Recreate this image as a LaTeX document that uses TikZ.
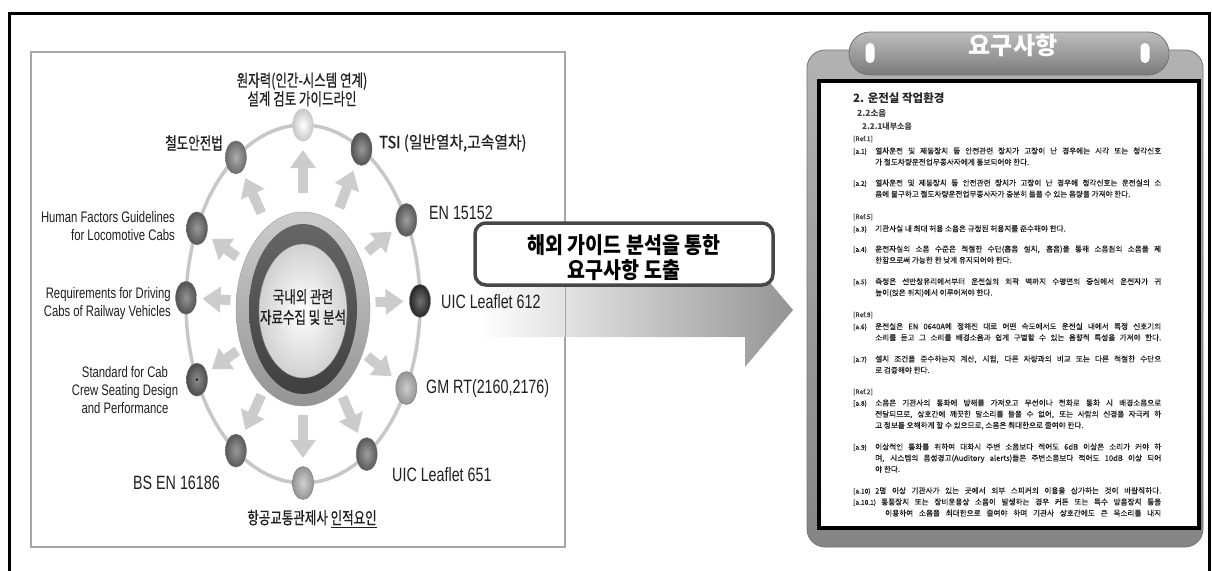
\documentclass[tikz,border=0pt]{standalone}
\usepackage{fontspec}
\usepackage{graphicx}
\setmainfont{Liberation Sans}
\newfontfamily\kr{Noto Sans CJK KR}
\newfontfamily\krfb[FakeBold=0.6]{Noto Sans CJK KR}
\newfontfamily\krdoc[FakeBold=0.35]{Noto Sans CJK KR}
\newfontfamily\en{Liberation Sans}
\usetikzlibrary{shapes.geometric,arrows.meta,calc}
\newcommand\reflabfont{\fontsize{6.6}{11.2}\selectfont}
\newcommand\dfull[2]{\hbox{\hbox to 22pt{\reflabfont #1\hss}\hbox to 286pt{#2}}}
\newcommand\dpart[2]{\hbox{\hbox to 22pt{\reflabfont #1\hss}#2}}
\begin{document}
\begin{tikzpicture}[x=1pt,y=-1pt,
  lab/.style={inner sep=0, yscale=1.35, text=black!88},
  krl/.style={lab, font=\krfb\fontsize{12.5}{11.9}\selectfont},
  ens/.style={lab, font=\en\fontsize{11.3}{13}\selectfont},
  enb/.style={lab, font=\en\fontsize{14.3}{15}\selectfont},
  ballnode/.style={ellipse, minimum width=21, minimum height=33, inner sep=0, draw=black!55, line width=0.4pt},
  bigarrow/.style={draw=black!20, line width=10pt, -{Triangle[width=25pt,length=18pt]}},
  ringline/.style={draw=black!22, line width=3.5pt},
  docp/.style={anchor=west, inner sep=0, align=left, text=black!88, font=\krdoc\fontsize{7.6}{11.2}\selectfont},
  reflab/.style={anchor=west, inner sep=0, text=black!80, font=\krdoc\fontsize{6.6}{8}\selectfont},
  panelbox/.style={rectangle, draw=black!35, line width=1.3pt, fill=white, inner sep=0},
  holebox/.style={rectangle, rounded corners=4.5pt, minimum width=9, minimum height=20, inner sep=0, fill=white},
]
\useasboundingbox (0,0) rectangle (1212,570);
% outer frame
\draw[line width=3pt] (9,575) -- (9,13) -- (1209,13) -- (1209,575);

% left panel
\node[panelbox, minimum width=534, minimum height=495] (lpanel) at (298,299.5) {};

% big arrow
\shade[left color=white, right color=black!42] (478,283) -- (745,283) -- (745,253) -- (793,310) -- (745,367) -- (745,337) -- (478,337) -- cycle;
\draw[draw=black!35, line width=1.3pt] (lpanel.north east) -- (lpanel.south east);

% arrow label box
\node[draw=black!72, line width=3.5pt, fill=white, rounded corners=11pt, minimum width=298, minimum height=62, inner sep=0] (lbox) at (624,254) {};
\node[inner sep=0, yscale=1.15, align=center, font=\kr\bfseries\fontsize{19.5}{21.7}\selectfont] (ltext) at (624,257.5) {해외 가이드 분석을 통한\\요구사항 도출};

% right panel
\node[rectangle, rounded corners=18pt, minimum width=396, minimum height=497, inner sep=0, draw=black!55, line width=0.8pt, top color=black!30, bottom color=black!48] (frame) at (1005,298.5) {};
\node[rectangle, draw=black, line width=3.5pt, fill=white, minimum width=380, minimum height=447, inner sep=0] (docarea) at (1009,304.5) {};
\node[rectangle, rounded corners=21pt, minimum width=320, minimum height=43, inner sep=0, draw=black!55, line width=0.8pt, top color=black!26, bottom color=black!52] (pill) at (1009,53.5) {};
\node[holebox] (hole1) at (870,53) {};
\node[holebox] (hole2) at (1145,53) {};
\node[inner sep=0, text=white, font=\kr\bfseries\fontsize{24}{24}\selectfont] (ptitle) at (1013,45) {요구사항};

% ring
\coordinate (rc) at (303,304);
\draw[ringline] (rc) ellipse [x radius=117pt, y radius=179pt];

\node[ballnode, inner color=white, outer color=black!22, draw=none] (n1) at ($(rc)+(90:117pt and 179pt)$) {};
\node[ballnode, inner color=black!40, outer color=black!68] (n2) at ($(rc)+(60:117pt and 179pt)$) {};
\node[ballnode, inner color=black!38, outer color=black!66] (n3) at ($(rc)+(28:117pt and 179pt)$) {};
\node[ballnode, inner color=black!55, outer color=black!85] (n4) at ($(rc)+(1:117pt and 179pt)$) {};
\node[ballnode, inner color=black!20, outer color=black!42] (n5) at ($(rc)+(-28:117pt and 179pt)$) {};
\node[ballnode, inner color=black!38, outer color=black!65] (n6) at ($(rc)+(-57:117pt and 179pt)$) {};
\node[ballnode, inner color=black!18, outer color=black!42] (n7) at ($(rc)+(-90:117pt and 179pt)$) {};
\node[ballnode, inner color=black!40, outer color=black!65] (n8) at ($(rc)+(-125:117pt and 179pt)$) {};
\node[ballnode, inner color=black!45, outer color=black!70] (n9) at ($(rc)+(-155:117pt and 179pt)$) {};
\node[ballnode, inner color=black!42, outer color=black!68] (n10) at ($(rc)+(178:117pt and 179pt)$) {};
\node[ballnode, inner color=black!40, outer color=black!66] (n11) at ($(rc)+(155:117pt and 179pt)$) {};
\node[ballnode, inner color=black!32, outer color=black!58] (n12) at ($(rc)+(125:117pt and 179pt)$) {};
\fill[black] (n9.center) circle [radius=1.2pt];

\foreach \nn in {n1,n2,n3,n4,n5,n6,n7,n8,n9,n10,n11,n12}
  \draw[bigarrow] ($(rc)!0.62!(\nn)$) -- ($(rc)!0.86!(\nn)$);

% central disc
\node[ellipse, minimum width=134, minimum height=194, inner sep=0, top color=black!20, bottom color=black!42, draw=black!40] (cOuter) at (303,309) {};
\node[ellipse, minimum width=108, minimum height=170, inner sep=0, top color=black!60, bottom color=black!75] (cDark) at (303,309) {};
\node[ellipse, minimum width=88, minimum height=134, inner sep=0, inner color=white, outer color=black!18, draw=black!45] (cInner) at (303,311) {};
\node[krl, align=center, font=\krfb\fontsize{12.5}{15.2}\selectfont] (ctext) at (303,307) {국내외 관련\\자료수집 및 분석};

% labels
\node[krl, align=center] (lt) at (302,89.5) {원자력(인간-시스템 연계)\\설계 검토 가이드라인};
\node[krl, anchor=east] (l12) at (223,143) {철도안전법};
\node[krl, anchor=west, xscale=1.18] (l2) at (379,143) {TSI (일반열차,고속열차)};
\node[enb, anchor=west] (l3) at (429,213) {EN 15152};
\node[ens, anchor=east, align=right] (l11) at (175,226) {Human Factors Guidelines\\for Locomotive Cabs};
\node[ens, anchor=east, align=right] (l10) at (171,303.5) {Requirements for Driving\\Cabs of Railway Vehicles};
\node[enb, anchor=west] (l4) at (441,302) {UIC Leaflet 612};
\node[ens, align=center] (l9) at (125,390) {Standard for Cab\\Crew Seating Design\\and Performance};
\node[enb, anchor=west] (l5) at (426,388) {GM RT(2160,2176)};
\node[enb, anchor=west] (l6) at (392,475) {UIC Leaflet 651};
\node[enb, anchor=east] (l8) at (220,483) {BS EN 16186};
\node[krl] (l7) at (312,519) {항공교통관제사 \underline{인적요인}};

% document text
\node[anchor=west, inner sep=0, text=black!85, font=\kr\bfseries\fontsize{11.5}{12}\selectfont] (d0) at (853,98) {2. 운전실 작업환경};
\node[anchor=west, inner sep=0, text=black!75, font=\kr\bfseries\fontsize{8.5}{9}\selectfont] (d1) at (857,113) {2.2소음};
\node[anchor=west, inner sep=0, text=black!75, font=\kr\bfseries\fontsize{8}{9}\selectfont] (d2) at (862,127) {2.2.1내부소음};
\node[reflab] (r1) at (853,139) {[Ref.1]};
\node[docp] (a1) at (853,156.5) {\dfull{[a.1)}{열차운전 및 제동장치 등 안전관련 장치가 고장이 난 경우에는 시각 또는 청각신호}\\\dpart{}{가 철도차량운전업무종사자에게 통보되어야 한다.}};
\node[docp] (a2) at (853,188.5) {\dfull{[a.2)}{열차운전 및 제동장치 등 안전관련 장치가 고장이 난 경우에 청각신호는 운전실의 소}\\\dpart{}{음에 불구하고 철도차량운전업무종사자가 충분히 들을 수 있는 음량을 가져야 한다.}};
\node[reflab] (r5) at (853,217) {[Ref.5]};
\node[docp] (a3) at (853,229) {\dpart{[a.3)}{기관사실 내 최대 허용 소음은 규정된 허용치를 준수해야 한다.}};
\node[docp] (a4) at (853,254.5) {\dfull{[a.4)}{운전자실의 소음 수준은 적절한 수단(흡음 설치, 흡음)을 통해 소음원의 소음을 제}\\\dpart{}{한함으로써 가능한 한 낮게 유지되어야 한다.}};
\node[docp] (a5) at (853,287.5) {\dfull{[a.5)}{측정은 선반창유리에서부터 운전실의 외곽 벽까지 수평면의 중심에서 운전자가 귀}\\\dpart{}{높이(앉은 위치)에서 이루어져야 한다.}};
\node[reflab] (r9) at (853,315) {[Ref.9]};
\node[docp] (a6) at (853,332) {\dfull{[a.6)}{운전실은 EN 0640A에 정해진 대로 어떤 속도에서도 운전실 내에서 특정 신호기의}\\\dfull{}{소리를 듣고 그 소리를 배경소음과 쉽게 구별할 수 있는 음향적 특성을 가져야 한다.}};
\node[docp] (a7) at (853,364.5) {\dfull{[a.7)}{설치 조건을 준수하는지 계산, 시험, 다른 차량과의 비교 또는 다른 적절한 수단으}\\\dpart{}{로 검증해야 한다.}};
\node[reflab] (r2) at (853,392) {[Ref.2]};
\node[docp] (a8) at (853,414.5) {\dfull{[a.8)}{소음은 기관사의 통화에 방해를 가져오고 무선이나 전화로 통화 시 배경소음으로}\\\dfull{}{전달되므로, 상호간에 깨끗한 말소리를 들을 수 없어, 또는 사람의 신경을 자극케 하}\\\dpart{}{고 정보를 오해하게 할 수 있으므로, 소음은 최대한으로 줄여야 한다.}};
\node[docp] (a9) at (853,458) {\dfull{[a.9)}{이상적인 통화를 위하여 대화시 주변 소음보다 적어도 6dB 이상은 소리가 커야 하}\\\dfull{}{며, 시스템의 음성경고(Auditory alerts)들은 주변소음보다 적어도 10dB 이상 되어}\\\dpart{}{야 한다.}};
\node[docp] (a10) at (853,491) {\dfull{[a.10)}{2명 이상 기관사가 있는 곳에서 외부 스피커의 이용을 삼가하는 것이 바람직하다.}};
\node[docp] (a101) at (853,507.5) {\hbox{\hbox to 28pt{\reflabfont [a.10.1)\hss}\hbox to 280pt{통풍장치 또는 장비운용상 소음이 발생하는 경우 커튼 또는 특수 방음장치 등을}}\\\hbox{\hskip 32pt\hbox to 276pt{이용하여 소음을 최대한으로 줄여야 하며 기관사 상호간에도 큰 목소리를 내지}}};
\end{tikzpicture}
\end{document}
